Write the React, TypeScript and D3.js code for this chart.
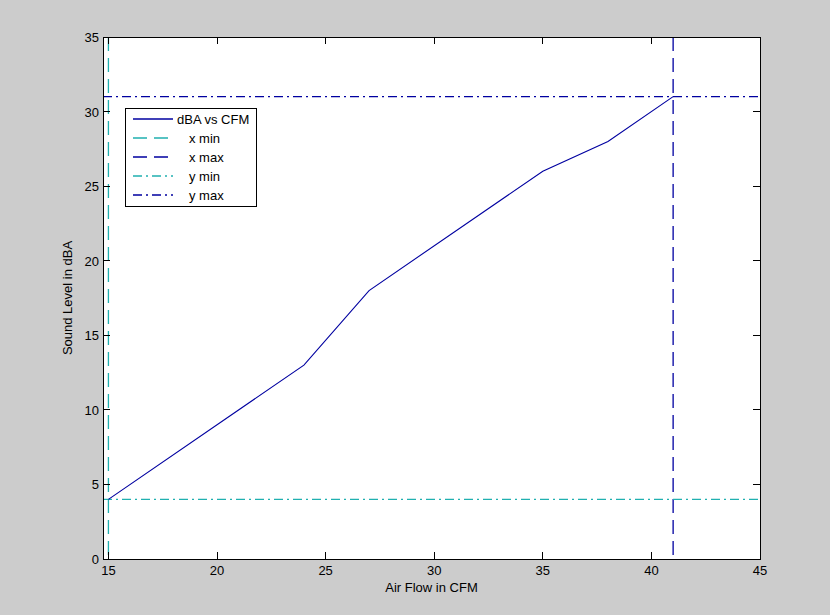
import { useEffect, useRef } from 'react'
import * as d3 from 'd3'

// ── Data ─────────────────────────────────────────────────────────
const airFlow = [15, 24, 27, 35, 38, 41]
const soundLevel = [4, 13, 18, 26, 28, 31]
const xTicks = [15, 20, 25, 30, 35, 40, 45]
const yTicks = [0, 5, 10, 15, 20, 25, 30, 35]
const xLimits = { min: 15, max: 41 }
const yLimits = { min: 4, max: 31 }
const legendLabels = ['dBA vs CFM', 'x min', 'x max', 'y min', 'y max']

const NAVY = '#0000a0'
const TEAL = '#20b0b0'
const FONT = 'Liberation Sans, Arial, sans-serif'

export default function App() {
  const svgRef = useRef<SVGSVGElement>(null)

  useEffect(() => {
    const svg = svgRef.current
    if (!svg) return
    const width = 830
    const height = 615
    const box = { left: 103, right: 760, top: 37, bottom: 559 }

    d3.select(svg).selectAll('*').remove()
    const root = d3.select(svg).attr('width', width).attr('height', height)

    root.append('rect').attr('width', width).attr('height', height).attr('fill', '#cccccc')
    root
      .append('rect')
      .attr('x', box.left)
      .attr('y', box.top)
      .attr('width', box.right - box.left)
      .attr('height', box.bottom - box.top)
      .attr('fill', '#ffffff')

    const x = d3.scaleLinear().domain([14.75, 45]).range([box.left, box.right])
    const y = d3.scaleLinear().domain([0, 35]).range([box.bottom, box.top])

    const plot = root.append('g')

    // ── Reference lines ─────────────────────────────────────────
    const dash = '14 7'
    const dashDot = '9 4 2 4'
    const refs = plot.append('g').attr('stroke-width', 1.3)
    refs
      .append('line')
      .attr('x1', x(xLimits.min)).attr('x2', x(xLimits.min))
      .attr('y1', box.top).attr('y2', box.bottom)
      .attr('stroke', TEAL).attr('stroke-dasharray', dash)
    refs
      .append('line')
      .attr('x1', x(xLimits.max)).attr('x2', x(xLimits.max))
      .attr('y1', box.top).attr('y2', box.bottom)
      .attr('stroke', NAVY).attr('stroke-dasharray', dash)
    refs
      .append('line')
      .attr('x1', box.left).attr('x2', box.right)
      .attr('y1', y(yLimits.min)).attr('y2', y(yLimits.min))
      .attr('stroke', TEAL).attr('stroke-dasharray', dashDot)
    refs
      .append('line')
      .attr('x1', box.left).attr('x2', box.right)
      .attr('y1', y(yLimits.max)).attr('y2', y(yLimits.max))
      .attr('stroke', NAVY).attr('stroke-dasharray', dashDot)

    // ── Main series ─────────────────────────────────────────────
    const line = d3
      .line<number>()
      .x((_, i) => x(airFlow[i]!))
      .y((d) => y(d))
    plot
      .append('path')
      .attr('d', line(soundLevel))
      .attr('fill', 'none')
      .attr('stroke', NAVY)
      .attr('stroke-width', 1.1)

    // ── Axes box + ticks ────────────────────────────────────────
    const tickLen = 7
    const axes = root.append('g').attr('stroke', '#000').attr('shape-rendering', 'crispEdges')
    axes
      .append('rect')
      .attr('x', box.left).attr('y', box.top)
      .attr('width', box.right - box.left).attr('height', box.bottom - box.top)
      .attr('fill', 'none')
    xTicks.forEach((t) => {
      axes.append('line').attr('x1', x(t)).attr('x2', x(t)).attr('y1', box.bottom).attr('y2', box.bottom - tickLen)
      axes.append('line').attr('x1', x(t)).attr('x2', x(t)).attr('y1', box.top).attr('y2', box.top + tickLen)
    })
    yTicks.forEach((t) => {
      axes.append('line').attr('x1', box.left).attr('x2', box.left + tickLen).attr('y1', y(t)).attr('y2', y(t))
      axes.append('line').attr('x1', box.right).attr('x2', box.right - tickLen).attr('y1', y(t)).attr('y2', y(t))
    })

    const labels = root.append('g').attr('font-family', FONT).attr('font-size', 13).attr('fill', '#000')
    xTicks.forEach((t) => {
      labels.append('text').attr('x', x(t)).attr('y', box.bottom + 16).attr('text-anchor', 'middle').text(t)
    })
    yTicks.forEach((t) => {
      labels
        .append('text')
        .attr('x', box.left - 4)
        .attr('y', y(t) + 5)
        .attr('text-anchor', 'end')
        .text(t)
    })
    labels
      .append('text')
      .attr('x', (box.left + box.right) / 2)
      .attr('y', 592)
      .attr('text-anchor', 'middle')
      .text('Air Flow in CFM')
    labels
      .append('text')
      .attr('transform', `translate(72,${(box.top + box.bottom) / 2}) rotate(-90)`)
      .attr('text-anchor', 'middle')
      .text('Sound Level in dBA')

    // ── Legend ──────────────────────────────────────────────────
    const legend = root.append('g')
    legend
      .append('rect')
      .attr('x', 125.5).attr('y', 108.5)
      .attr('width', 131).attr('height', 98)
      .attr('fill', '#ffffff').attr('stroke', '#000')
    const styles = [
      { color: NAVY, dash: null },
      { color: TEAL, dash: dash },
      { color: NAVY, dash: dash },
      { color: TEAL, dash: dashDot },
      { color: NAVY, dash: dashDot },
    ]
    legendLabels.forEach((label, i) => {
      const ly = 119 + i * 19
      legend
        .append('line')
        .attr('x1', 133).attr('x2', 173)
        .attr('y1', ly).attr('y2', ly)
        .attr('stroke', styles[i]!.color)
        .attr('stroke-width', 1.3)
        .attr('stroke-dasharray', styles[i]!.dash ?? null)
      legend
        .append('text')
        .attr('x', i === 0 ? 177 : 189)
        .attr('y', ly + 5)
        .attr('font-family', FONT)
        .attr('font-size', 13)
        .text(label)
    })
  }, [])

  return (
    <div style={{ position: 'fixed', left: 0, top: 0 }}>
      <svg ref={svgRef} style={{ display: 'block' }} />
    </div>
  )
}
